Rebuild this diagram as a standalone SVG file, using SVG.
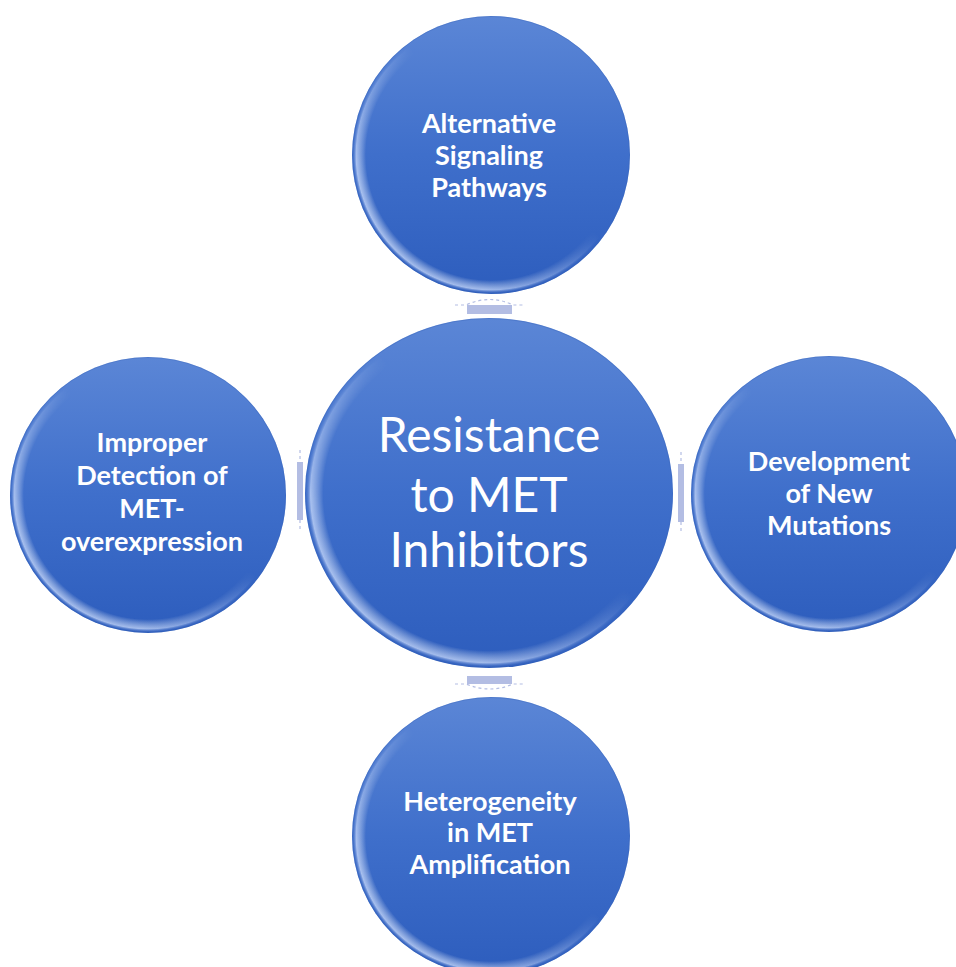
<svg xmlns="http://www.w3.org/2000/svg" width="956" height="967" viewBox="0 0 956 967">
<defs>
<linearGradient id="fill" x1="0" y1="0" x2="0" y2="1">
<stop offset="0" stop-color="#5b86d6"/>
<stop offset="0.5" stop-color="#3f6fcb"/>
<stop offset="1" stop-color="#2d5dbd"/>
</linearGradient>
<radialGradient id="hl" cx="0.5" cy="0.5" r="0.5">
<stop offset="0.9" stop-color="#ffffff" stop-opacity="0"/>
<stop offset="0.97" stop-color="#d6e4ff" stop-opacity="0.7"/>
<stop offset="1" stop-color="#2d5dbd" stop-opacity="0"/>
</radialGradient>
<linearGradient id="mask" x1="1" y1="0" x2="0" y2="1">
<stop offset="0.45" stop-color="#000"/>
<stop offset="0.75" stop-color="#fff"/>
<stop offset="1" stop-color="#fff"/>
</linearGradient>
<mask id="m" maskContentUnits="objectBoundingBox">
<rect x="0" y="0" width="1" height="1" fill="url(#mask)"/>
</mask>
</defs>
<style>
.ball{fill:url(#fill);}
.glow{fill:url(#hl);}
.edge{fill:none;stroke:#3a64b8;stroke-width:1;stroke-opacity:0.35;}
.t{font-family:Lato,"Open Sans","Liberation Sans",sans-serif;font-weight:bold;font-size:27px;fill:#ffffff;text-anchor:middle;}
.tc{font-family:Lato,"Open Sans","Liberation Sans",sans-serif;font-size:48px;fill:#ffffff;text-anchor:middle;}
.conn{fill:#b3bde3;}
.dash{fill:none;stroke:#b3bde3;stroke-width:1.2;stroke-dasharray:3 3;}
</style>
<rect width="956" height="967" fill="#ffffff"/>
<g id="connectors">
<rect class="conn" x="467" y="305" width="45" height="9"/>
<path class="dash" d="M455 305 L466 305 Q490 294 513 305 L524 305"/>
<rect class="conn" x="467" y="676" width="45" height="8"/>
<path class="dash" d="M455 684 L466 684 Q490 694 513 684 L524 684"/>
<rect class="conn" x="297" y="462" width="6" height="58"/>
<path class="dash" d="M300 450 L300 462 M300 520 L300 532"/>
<rect class="conn" x="678" y="464" width="6" height="58"/>
<path class="dash" d="M681 452 L681 464 M681 522 L681 534"/>
</g>
<g id="node-top">
<circle class="ball" cx="491" cy="155" r="139"/>
<circle class="glow" cx="491" cy="155" r="139" mask="url(#m)"/>
<circle class="edge" cx="491" cy="155" r="138.5"/>
<text class="t" x="489" y="133">Alternative</text>
<text class="t" x="489" y="165">Signaling</text>
<text class="t" x="489" y="197">Pathways</text>
</g>
<g id="node-center">
<ellipse class="ball" cx="489" cy="493" rx="184" ry="175"/>
<ellipse class="glow" cx="489" cy="493" rx="184" ry="175" mask="url(#m)"/>
<ellipse class="edge" cx="489" cy="493" rx="183.5" ry="174.5"/>
<text class="tc" x="489" y="452">Resistance</text>
<text class="tc" x="489" y="512">to MET</text>
<text class="tc" x="489" y="567">Inhibitors</text>
</g>
<g id="node-left">
<circle class="ball" cx="148" cy="495" r="138"/>
<circle class="glow" cx="148" cy="495" r="138" mask="url(#m)"/>
<circle class="edge" cx="148" cy="495" r="137.5"/>
<text class="t" x="152" y="452">Improper</text>
<text class="t" x="152" y="485">Detection of</text>
<text class="t" x="152" y="518">MET-</text>
<text class="t" x="152" y="551">overexpression</text>
</g>
<g id="node-right">
<circle class="ball" cx="829" cy="494" r="138"/>
<circle class="glow" cx="829" cy="494" r="138" mask="url(#m)"/>
<circle class="edge" cx="829" cy="494" r="137.5"/>
<text class="t" x="829" y="471">Development</text>
<text class="t" x="829" y="503">of New</text>
<text class="t" x="829" y="535">Mutations</text>
</g>
<g id="node-bottom">
<circle class="ball" cx="491" cy="836" r="139"/>
<circle class="glow" cx="491" cy="836" r="139" mask="url(#m)"/>
<circle class="edge" cx="491" cy="836" r="138.5"/>
<text class="t" x="490" y="811">Heterogeneity</text>
<text class="t" x="490" y="842">in MET</text>
<text class="t" x="490" y="874">Amplification</text>
</g>
</svg>
